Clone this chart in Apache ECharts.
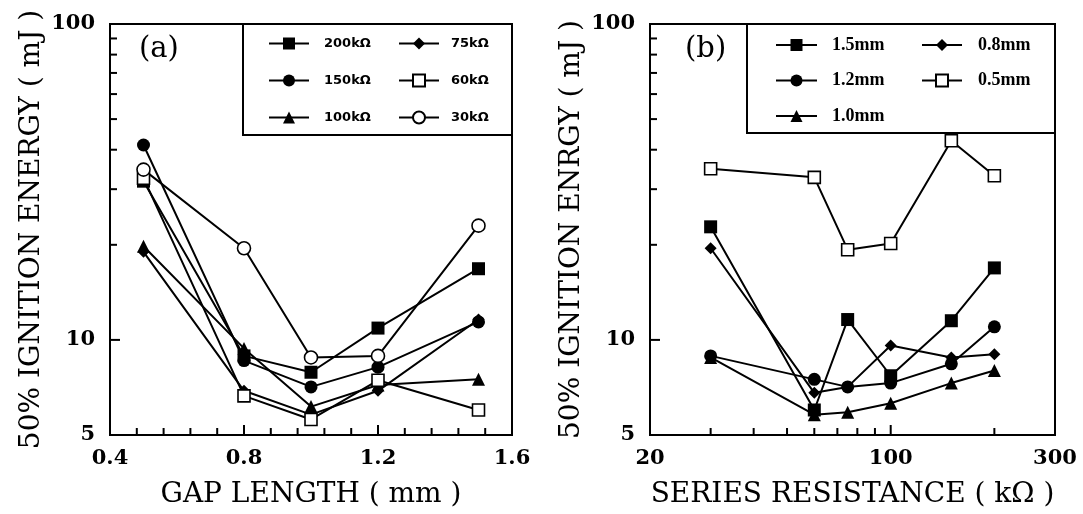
<!DOCTYPE html>
<html>
<head>
<meta charset="utf-8">
<script src="https://cdn.jsdelivr.net/npm/echarts@6/dist/echarts.min.js"></script>
<style>
  html, body { margin: 0; padding: 0; background: #fff; }
  #chart { width: 1083px; height: 514px; }
</style>
</head>
<body>
<div id="chart"></div>
<script>
// (a) ignition energy vs gap length, one line per series resistance
const gapLength = [0.5, 0.8, 1.0, 1.2, 1.5]
const e200 = [31.8, 8.9, 7.9, 10.9, 16.8]
const e150 = [41.4, 8.6, 7.1, 8.2, 11.4]
const e100 = [19.8, 9.4, 6.15, 7.2, 7.5]
const e75 = [19.0, 6.9, 5.8, 6.9, 11.6]
const e60 = [32.5, 6.65, 5.6, 7.45, 6.0]
const e30 = [34.6, 19.5, 8.8, 8.9, 23.0]

// (b) ignition energy vs series resistance, one line per gap length
const resistance = [30, 60, 75, 100, 150, 200]
const m15 = [22.8, 6.0, 11.6, 7.7, 11.5, 16.9]
const m12 = [8.9, 7.5, 7.1, 7.3, 8.4, 11.0]
const m10 = [8.8, 5.8, 5.9, 6.3, 7.3, 8.0]
const m08 = [19.5, 6.8, 7.1, 9.6, 8.8, 9.0]
const m05 = [34.8, 32.7, 19.3, 20.2, 42.7, 33.1]

// axis ranges, labels and tick positions
const yRange = [5, 100]
const xRangeA = [0.4, 1.6]
const xRangeB = [20, 300]
const yLabels = [5, 10, 100]
const yTicks = [10, 20, 30, 40, 50, 60, 70, 80, 90]
const yMajor = [10]
const xTicksA = [0.48, 0.56, 0.64, 0.72, 0.8, 0.88, 0.96, 1.04, 1.12, 1.2, 1.28, 1.36, 1.44, 1.52]
const xMajorA = [0.8, 1.2]
const xLabelsB = [20, 100, 300]
const xTicksB = [30, 40, 50, 60, 70, 80, 90, 100, 200]
const xMajorB = [100]

const serif = 'DejaVu Serif'
const black = '#000'

const filled = { color: black }
const hollow = { color: '#fff', borderColor: black, borderWidth: 1.6 }

function line(name, xs, ys, idx, symbol, size, itemStyle) {
  return {
    name,
    type: 'line',
    xAxisIndex: idx,
    yAxisIndex: idx,
    data: xs.map((x, i) => [x, ys[i]]),
    symbol,
    symbolSize: size,
    lineStyle: { color: black, width: 2 },
    itemStyle,
    emphasis: { disabled: true },
    animation: false,
    z: 3
  }
}

// inward ticks drawn through the axis scales
function ticks(idx, dir, values, major, other) {
  return {
    type: 'custom',
    xAxisIndex: idx,
    yAxisIndex: idx,
    silent: true,
    clip: false,
    z: 10,
    data: values.map(v => dir === 'y' ? [other, v] : [v, other]),
    renderItem(params, api) {
      const p = api.coord([api.value(0), api.value(1)])
      const v = api.value(dir === 'y' ? 1 : 0)
      const len = major.includes(v) ? 10 : 7
      const shape = dir === 'y'
        ? { x1: p[0], y1: p[1], x2: p[0] + len, y2: p[1] }
        : { x1: p[0], y1: p[1], x2: p[0], y2: p[1] - len }
      return { type: 'line', shape, style: { stroke: black, lineWidth: 2 } }
    }
  }
}

function yAxisOf(idx) {
  return {
    type: 'log',
    logBase: 10,
    gridIndex: idx,
    min: yRange[0],
    max: yRange[1],
    name: idx === 0 ? '50% IGNITION ENERGY ( mJ )' : '50% IGNITION ENRGY ( mJ )',
    nameLocation: 'middle',
    nameGap: 64,
    nameTextStyle: { fontFamily: serif, fontSize: 28, color: black },
    axisLine: { show: true, lineStyle: { color: black, width: 2 } },
    axisTick: { show: false },
    axisLabel: { show: true, customValues: yLabels, fontFamily: serif, fontWeight: 'bold', fontSize: 21, color: black, margin: 15 },
    splitLine: { show: false },
    minorTick: { show: false }
  }
}

const chart = echarts.init(document.getElementById('chart'), null, { renderer: 'canvas' })

const legendText = { color: black, fontWeight: 'bold' }

chart.setOption({
  backgroundColor: '#fff',
  animation: false,
  grid: [
    { left: 110, top: 24, width: 402, height: 412, show: true, borderColor: black, borderWidth: 2 },
    { left: 650, top: 24, width: 405, height: 412, show: true, borderColor: black, borderWidth: 2 }
  ],
  xAxis: [
    {
      type: 'value',
      gridIndex: 0,
      min: xRangeA[0],
      max: xRangeA[1],
      interval: 0.4,
      name: 'GAP LENGTH ( mm )',
      nameLocation: 'middle',
      nameGap: 46,
      nameTextStyle: { fontFamily: serif, fontSize: 28, color: black },
      axisLine: { show: true, lineStyle: { color: black, width: 2 } },
      axisTick: { show: false },
      minorTick: { show: false },
      axisLabel: { show: true, fontFamily: serif, fontWeight: 'bold', fontSize: 21, color: black, margin: 13, formatter: v => v.toFixed(1) },
      splitLine: { show: false }
    },
    {
      type: 'log',
      logBase: 10,
      gridIndex: 1,
      min: xRangeB[0],
      max: xRangeB[1],
      name: 'SERIES RESISTANCE ( kΩ )',
      nameLocation: 'middle',
      nameGap: 46,
      nameTextStyle: { fontFamily: serif, fontSize: 28, color: black },
      axisLine: { show: true, lineStyle: { color: black, width: 2 } },
      axisTick: { show: false },
      axisLabel: { show: true, customValues: xLabelsB, fontFamily: serif, fontWeight: 'bold', fontSize: 21, color: black, margin: 13 },
      splitLine: { show: false },
      minorTick: { show: false }
    }
  ],
  yAxis: [yAxisOf(0), yAxisOf(1)],
  legend: [
    {
      orient: 'vertical', left: 263, top: 31, itemWidth: 40, itemHeight: 15, itemGap: 22,
      textStyle: Object.assign({ fontFamily: 'DejaVu Sans', fontSize: 13, lineHeight: 15, padding: [0, 0, 0, 10] }, legendText),
      data: ['200kΩ', '150kΩ', '100kΩ'], selectedMode: false
    },
    {
      orient: 'vertical', left: 393, top: 31, itemWidth: 40, itemHeight: 15, itemGap: 22,
      textStyle: Object.assign({ fontFamily: 'DejaVu Sans', fontSize: 13, lineHeight: 15, padding: [0, 0, 0, 7] }, legendText),
      data: ['75kΩ', '60kΩ', '30kΩ'], selectedMode: false
    },
    {
      orient: 'vertical', left: 770, top: 31, itemWidth: 41, itemHeight: 15, itemGap: 17.5,
      textStyle: Object.assign({ fontFamily: 'Liberation Serif', fontSize: 18, lineHeight: 15, padding: [0, 0, 0, 10] }, legendText),
      data: ['1.5mm', '1.2mm', '1.0mm'], selectedMode: false
    },
    {
      orient: 'vertical', left: 916, top: 31, itemWidth: 40, itemHeight: 15, itemGap: 17.5,
      textStyle: Object.assign({ fontFamily: 'Liberation Serif', fontSize: 18, lineHeight: 15, padding: [0, 0, 0, 11] }, legendText),
      data: ['0.8mm', '0.5mm'], selectedMode: false
    }
  ],
  graphic: [
    { type: 'rect', shape: { x: 243, y: 24, width: 269, height: 111 }, style: { fill: null, stroke: black, lineWidth: 2 }, z: 10 },
    { type: 'rect', shape: { x: 747, y: 24, width: 308, height: 109 }, style: { fill: null, stroke: black, lineWidth: 2 }, z: 10 },
    { type: 'text', left: 139, top: 35, style: { text: '(a)', font: '29px "DejaVu Serif"', fill: black } },
    { type: 'text', left: 685, top: 35, style: { text: '(b)', font: '29px "DejaVu Serif"', fill: black } }
  ],
  series: [
    line('200kΩ', gapLength, e200, 0, 'rect', 13, filled),
    line('150kΩ', gapLength, e150, 0, 'circle', 13, filled),
    line('100kΩ', gapLength, e100, 0, 'triangle', 13, filled),
    line('75kΩ', gapLength, e75, 0, 'diamond', 12, filled),
    line('60kΩ', gapLength, e60, 0, 'rect', 12, hollow),
    line('30kΩ', gapLength, e30, 0, 'circle', 13, hollow),
    line('1.5mm', resistance, m15, 1, 'rect', 13, filled),
    line('1.2mm', resistance, m12, 1, 'circle', 13, filled),
    line('1.0mm', resistance, m10, 1, 'triangle', 13, filled),
    line('0.8mm', resistance, m08, 1, 'diamond', 12, filled),
    line('0.5mm', resistance, m05, 1, 'rect', 12, hollow),
    ticks(0, 'y', yTicks, yMajor, xRangeA[0]),
    ticks(0, 'x', xTicksA, xMajorA, yRange[0]),
    ticks(1, 'y', yTicks, yMajor, xRangeB[0]),
    ticks(1, 'x', xTicksB, xMajorB, yRange[0])
  ]
})
</script>
</body>
</html>
